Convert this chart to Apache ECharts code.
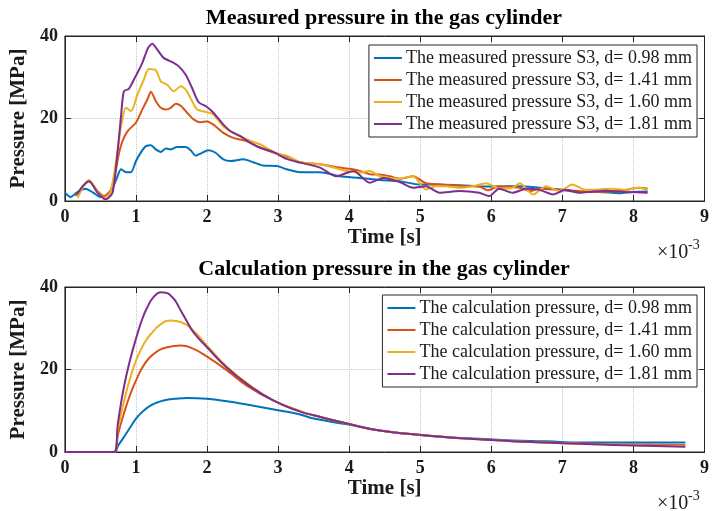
<!DOCTYPE html>
<html>
<head>
<meta charset="utf-8">
<script src="https://cdn.jsdelivr.net/npm/echarts@6/dist/echarts.min.js"></script>
<style>html,body{margin:0;padding:0;background:#fff}#c{width:712px;height:511px}</style>
</head>
<body>
<div id="c"></div>
<script>
// time values in units of 1e-3 s, pressure in MPa
const xTicks = [0,1,2,3,4,5,6,7,8,9];
const yTicks = [0,20,40];

const measNames = [
  'The measured pressure S3, d= 0.98 mm',
  'The measured pressure S3, d= 1.41 mm',
  'The measured pressure S3, d= 1.60 mm',
  'The measured pressure S3, d= 1.81 mm'
];
const calcNames = [
  'The calculation pressure, d= 0.98 mm',
  'The calculation pressure, d= 1.41 mm',
  'The calculation pressure, d= 1.60 mm',
  'The calculation pressure, d= 1.81 mm'
];

const meas098 = [[0,2.0],[0.08,1.0],[0.18,2.2],[0.29,3.0],[0.4,2.0],[0.5,1.0],[0.57,1.2],[0.67,3.2],[0.73,5.5],[0.79,7.7],[0.86,7.0],[0.93,7.0],[1.0,9.7],[1.07,11.8],[1.14,13.3],[1.21,13.5],[1.28,12.5],[1.35,11.9],[1.42,12.7],[1.49,12.5],[1.58,13.1],[1.7,13.1],[1.77,12.3],[1.84,11.0],[1.91,11.5],[2.02,12.3],[2.12,11.7],[2.23,10.1],[2.33,9.7],[2.51,10.1],[2.65,9.4],[2.79,8.6],[2.98,8.5],[3.12,7.7],[3.31,7.0],[3.59,7.0],[3.87,6.0],[4.15,5.6],[4.43,5.1],[4.71,4.8],[4.99,4.0],[5.27,4.0],[5.55,3.8],[5.83,3.6],[6.11,3.5],[6.4,3.6],[6.68,3.2],[6.96,2.8],[7.24,2.2],[7.52,2.2],[7.8,1.9],[7.99,2.2],[8.2,2.3]];
const meas141 = [[0.15,1.2],[0.25,3.5],[0.34,4.8],[0.46,2.4],[0.55,1.2],[0.64,2.4],[0.71,6.9],[0.76,11.5],[0.81,14.5],[0.88,16.9],[1.0,19.0],[1.09,22.2],[1.16,24.6],[1.21,26.5],[1.28,24.2],[1.35,22.6],[1.42,22.2],[1.49,22.6],[1.56,23.6],[1.63,23.1],[1.72,21.4],[1.81,19.8],[1.91,19.1],[2.0,19.3],[2.09,18.5],[2.23,16.5],[2.37,15.3],[2.56,14.5],[2.75,12.9],[2.98,11.5],[3.17,10.5],[3.31,9.4],[3.59,8.9],[3.87,8.1],[4.01,7.8],[4.15,7.3],[4.29,6.5],[4.43,6.4],[4.57,6.0],[4.71,5.4],[4.9,6.0],[5.08,4.3],[5.27,4.0],[5.46,3.8],[5.64,3.6],[5.83,3.5],[5.95,2.6],[6.11,3.6],[6.4,3.2],[6.55,2.4],[6.68,3.0],[6.96,2.7],[7.24,2.4],[7.52,2.2],[7.8,2.4],[8.08,3.2],[8.2,3.0]];
const meas160 = [[0.18,0.8],[0.26,3.5],[0.34,5.1],[0.46,2.2],[0.55,0.8],[0.64,2.0],[0.73,10.9],[0.79,18.1],[0.86,22.6],[0.93,21.8],[1.02,25.8],[1.11,29.4],[1.18,32.0],[1.28,31.7],[1.35,29.0],[1.44,28.2],[1.53,26.6],[1.63,27.8],[1.7,27.0],[1.79,24.2],[1.86,22.2],[2.0,21.5],[2.09,21.0],[2.23,18.1],[2.37,16.5],[2.56,14.9],[2.75,13.7],[2.98,11.5],[3.12,11.0],[3.31,9.4],[3.59,8.9],[3.78,8.1],[3.96,7.3],[4.15,6.9],[4.29,7.3],[4.43,6.0],[4.57,5.6],[4.71,5.4],[4.9,6.0],[5.08,2.8],[5.22,3.6],[5.36,3.6],[5.55,3.2],[5.74,3.6],[5.93,4.3],[6.11,3.0],[6.3,3.2],[6.4,4.3],[6.59,1.6],[6.77,3.6],[6.96,2.4],[7.14,4.0],[7.33,2.7],[7.52,2.8],[7.7,3.0],[7.89,2.7],[8.08,3.2],[8.2,2.7]];
const meas181 = [[0.17,1.6],[0.26,3.8],[0.34,4.8],[0.46,2.0],[0.57,0.4],[0.67,2.0],[0.74,11.7],[0.79,20.6],[0.83,26.6],[0.9,27.2],[0.97,29.4],[1.09,33.5],[1.17,37.1],[1.23,38.1],[1.3,36.7],[1.39,34.7],[1.53,33.5],[1.6,32.7],[1.7,30.6],[1.79,27.4],[1.88,24.0],[2.0,22.8],[2.09,21.4],[2.23,18.5],[2.33,16.9],[2.47,15.7],[2.61,14.1],[2.75,12.9],[2.93,11.9],[3.12,10.2],[3.31,9.3],[3.59,8.1],[3.82,6.0],[4.06,7.3],[4.29,4.4],[4.48,5.6],[4.71,4.6],[4.9,3.2],[5.08,3.6],[5.27,2.0],[5.55,2.4],[5.83,2.0],[5.97,1.2],[6.11,3.0],[6.3,2.0],[6.49,3.0],[6.68,2.7],[6.87,1.6],[7.05,2.7],[7.24,2.0],[7.43,2.3],[7.61,2.5],[7.89,2.2],[8.2,2.0]];

const calc098 = [[0,0],[0.69,0],[0.75,1.6],[0.83,3.6],[0.92,6.0],[1.02,8.5],[1.12,10.2],[1.21,11.3],[1.3,12.0],[1.39,12.5],[1.55,12.9],[1.72,13.1],[2.0,12.9],[2.28,12.3],[2.56,11.5],[2.98,10.2],[3.31,9.1],[3.5,8.1],[3.97,6.7],[4.43,5.2],[4.9,4.3],[5.37,3.6],[5.83,3.2],[6.3,2.8],[6.77,2.6],[7.24,2.3],[7.7,2.3],[8.73,2.3]];
const calc141 = [[0,0],[0.69,0],[0.75,4.5],[0.83,9.3],[0.92,14.0],[1.02,18.1],[1.12,21.3],[1.25,23.8],[1.44,25.4],[1.63,25.8],[1.81,25.0],[2.0,23.1],[2.28,19.8],[2.56,16.1],[2.93,12.5],[3.31,9.9],[3.5,8.9],[3.97,6.9],[4.43,5.2],[4.9,4.3],[5.37,3.6],[5.83,3.1],[6.3,2.6],[6.77,2.3],[7.24,2.1],[7.7,1.9],[8.17,1.8],[8.73,1.7]];
const calc160 = [[0,0],[0.69,0],[0.75,6.0],[0.83,12.1],[0.92,18.0],[1.02,23.0],[1.12,26.5],[1.21,28.6],[1.35,31.0],[1.49,31.9],[1.63,31.5],[1.81,29.4],[2.0,25.8],[2.28,20.7],[2.56,16.7],[2.93,12.6],[3.31,9.9],[3.5,8.9],[3.97,6.9],[4.43,5.2],[4.9,4.3],[5.37,3.6],[5.83,3.1],[6.3,2.6],[6.77,2.3],[7.24,2.0],[7.7,1.8],[8.17,1.6],[8.73,1.5]];
const calc181 = [[0,0],[0.69,0],[0.75,7.5],[0.83,15.7],[0.92,22.5],[1.02,28.6],[1.09,32.3],[1.16,35.1],[1.25,37.6],[1.35,38.7],[1.42,38.6],[1.49,37.9],[1.56,36.5],[1.63,34.3],[1.72,31.6],[1.81,29.0],[2.0,25.4],[2.28,20.4],[2.56,16.5],[2.93,12.5],[3.31,9.8],[3.5,8.9],[3.97,6.9],[4.43,5.2],[4.9,4.3],[5.37,3.6],[5.83,3.1],[6.3,2.6],[6.77,2.3],[7.24,2.0],[7.7,1.7],[8.17,1.5],[8.73,1.3]];

const colors = ['#0072BD','#D95319','#EDB120','#7E2F8E'];
const FONT = 'Liberation Serif';
const AX = '#262626';

const grids = [
  {left:64, right:7, top:36, height:165, show:true, borderColor:AX, borderWidth:1, backgroundColor:'#fff'},
  {left:64, right:7, top:287, height:165, show:true, borderColor:AX, borderWidth:1, backgroundColor:'#fff'}
];

function xMain(g){
  return {type:'value', gridIndex:g, min:xTicks[0], max:xTicks[xTicks.length-1], interval:1,
    name:'Time [s]', nameLocation:'middle', nameGap:26,
    nameTextStyle:{fontFamily:FONT, fontWeight:'bold', fontSize:21, color:'#1a1a1a'},
    axisLine:{show:true, onZero:false, lineStyle:{color:AX, width:1}},
    axisTick:{show:true, inside:true, length:6, lineStyle:{color:AX}},
    axisLabel:{fontFamily:FONT, fontWeight:'bold', fontSize:18, color:'#1a1a1a', margin:7, showMinLabel:true, showMaxLabel:true},
    splitLine:{show:true, lineStyle:{color:'#c4c4c4', type:[1,1], width:1}}};
}
function xTop(g){
  return {type:'value', gridIndex:g, position:'top', min:0, max:9, interval:1,
    axisLine:{show:true, onZero:false, lineStyle:{color:AX}},
    axisTick:{show:true, inside:true, length:6, lineStyle:{color:AX}},
    axisLabel:{show:false}, splitLine:{show:false}};
}
function yMain(g){
  return {type:'value', gridIndex:g, min:yTicks[0], max:yTicks[yTicks.length-1], interval:20,
    name:'Pressure [MPa]', nameLocation:'middle', nameGap:25, nameRotate:90,
    nameTextStyle:{fontFamily:FONT, fontWeight:'bold', fontSize:21, color:'#1a1a1a'},
    axisLine:{show:true, onZero:false, lineStyle:{color:AX, width:1}},
    axisTick:{show:true, inside:true, length:6, lineStyle:{color:AX}},
    axisLabel:{fontFamily:FONT, fontWeight:'bold', fontSize:18, color:'#1a1a1a', margin:7},
    splitLine:{show:true, lineStyle:{color:'#c4c4c4', type:[1,1], width:1}}};
}
function yRight(g){
  return {type:'value', gridIndex:g, position:'right', min:0, max:40, interval:20,
    axisLine:{show:true, onZero:false, lineStyle:{color:AX}},
    axisTick:{show:true, inside:true, length:6, lineStyle:{color:AX}},
    axisLabel:{show:false}, splitLine:{show:false}};
}

const measData = [meas098, meas141, meas160, meas181];
const calcData = [calc098, calc141, calc160, calc181];
const series = [];
measData.forEach((d,i)=>series.push({type:'line', name:measNames[i], xAxisIndex:0, yAxisIndex:0, data:d,
  symbol:'none', smooth:0.25, lineStyle:{width:2, color:colors[i]}, itemStyle:{color:colors[i]}, z:10+i, animation:false}));
calcData.forEach((d,i)=>series.push({type:'line', name:calcNames[i], xAxisIndex:2, yAxisIndex:2, data:d,
  symbol:'none', smooth:0.5, lineStyle:{width:2, color:colors[i]}, itemStyle:{color:colors[i]}, z:10+i, animation:false}));

const legendCommon = {
  orient:'vertical', right:15, icon:'rect', itemWidth:28, itemHeight:2, itemGap:0,
  padding:[2,5,2,5], backgroundColor:'#fff', borderColor:AX, borderWidth:1, borderRadius:0,
  textStyle:{fontFamily:FONT, fontSize:18, color:'#1a1a1a', lineHeight:22, padding:[0,0,0,-1]},
  selectedMode:false, align:'left', z:20
};

const titleStyle = {fontFamily:FONT, fontWeight:'bold', fontSize:22, color:'#000'};

const option = {
  animation:false,
  backgroundColor:'#fff',
  color:colors,
  title:[
    {text:'Measured pressure in the gas cylinder', left:384, textAlign:'center', top:7, padding:0, textStyle:titleStyle},
    {text:'Calculation pressure in the gas cylinder', left:384, textAlign:'center', top:258, padding:0, textStyle:titleStyle}
  ],
  grid:grids,
  xAxis:[xMain(0), xTop(0), xMain(1), xTop(1)],
  yAxis:[yMain(0), yRight(0), yMain(1), yRight(1)],
  legend:[
    Object.assign({}, legendCommon, {top:45, data:measNames}),
    Object.assign({}, legendCommon, {top:295, data:calcNames})
  ],
  graphic:[
    {type:'text', left:657, top:243, style:{text:'×10', font:'20px "Liberation Serif"', fill:'#1a1a1a'}},
    {type:'text', left:688, top:238, style:{text:'-3', font:'14px "Liberation Serif"', fill:'#1a1a1a'}},
    {type:'text', left:657, top:494, style:{text:'×10', font:'20px "Liberation Serif"', fill:'#1a1a1a'}},
    {type:'text', left:688, top:489, style:{text:'-3', font:'14px "Liberation Serif"', fill:'#1a1a1a'}}
  ],
  series:series
};

const chart = echarts.init(document.getElementById('c'), null, {renderer:'canvas'});
chart.setOption(option);
</script>
</body>
</html>
